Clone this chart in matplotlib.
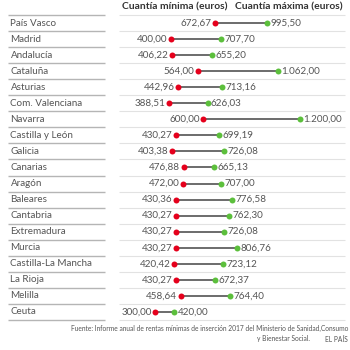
import matplotlib

matplotlib.use("Agg")
import matplotlib.pyplot as plt

regions = ["País Vasco", "Madrid", "Andalucía", "Cataluña", "Asturias",
           "Com. Valenciana", "Navarra", "Castilla y León", "Galicia",
           "Canarias", "Aragón", "Baleares", "Cantabria", "Extremadura",
           "Murcia", "Castilla-La Mancha", "La Rioja", "Melilla", "Ceuta"]
minimo = [672.67, 400.00, 406.22, 564.00, 442.96, 388.51, 600.00, 430.27,
          403.38, 476.88, 472.00, 430.36, 430.27, 430.27, 430.27, 420.42,
          430.27, 458.64, 300.00]
maximo = [995.50, 707.70, 655.20, 1062.00, 713.16, 626.03, 1200.00, 699.19,
          726.08, 665.13, 707.00, 776.58, 762.30, 726.08, 806.76, 723.12,
          672.37, 764.40, 420.00]

RED = "#e5001c"
GREEN = "#5cbf3c"
TEXT = "#555555"

plt.rcParams["font.family"] = ["Lato", "DejaVu Sans"]


def fmt(v):
    s = f"{v:,.2f}"
    return s.replace(",", "X").replace(".", ",").replace("X", ".")


fig = plt.figure(figsize=(3.5, 3.5), dpi=100)
ax = fig.add_axes([0, 0, 1, 1])
ax.set_xlim(-663, 1511)
ax.set_ylim(20.375, -1.4375)
ax.axis("off")

n = len(regions)
# row separators: darker under the labels, lighter across the values
for i in range(n + 1):
    y = i - 0.5
    ax.plot([0.023, 0.30], [y, y], transform=ax.get_yaxis_transform(),
            color="#b5b5b5", lw=1.0, solid_capstyle="butt")
    ax.plot([0.34, 0.985], [y, y], transform=ax.get_yaxis_transform(),
            color="#e2e2e2", lw=0.8, solid_capstyle="butt")

for i, (name, lo, hi) in enumerate(zip(regions, minimo, maximo)):
    ax.text(0.03, i, name, transform=ax.get_yaxis_transform(),
            ha="left", va="center", fontsize=7.1, color=TEXT)
    ax.plot([lo, hi], [i, i], color="#444444", lw=1.1, zorder=2)
    ax.plot(lo, i, "o", color=RED, ms=4.3, mec="none", zorder=3)
    ax.plot(hi, i, "o", color=GREEN, ms=4.3, mec="none", zorder=3)
    ax.annotate(fmt(lo), (lo, i), xytext=(-2.5, 0), textcoords="offset points",
                ha="right", va="center", fontsize=7.1, color=TEXT)
    ax.annotate(fmt(hi), (hi, i), xytext=(2.5, 0), textcoords="offset points",
                ha="left", va="center", fontsize=7.1, color=TEXT)

fig.text(175 / 350, 1 - 7 / 350, "Cuantía mínima (euros)", ha="center",
         va="center", fontsize=7.4, fontweight="bold", color="#333333")
fig.text(289 / 350, 1 - 7 / 350, "Cuantía máxima (euros)", ha="center",
         va="center", fontsize=7.4, fontweight="bold", color="#333333")

fig.text(348 / 350, 1 - 328 / 350,
         "Fuente: Informe anual de rentas mínimas de inserción 2017 del Ministerio de Sanidad,Consumo",
         ha="right", va="center", fontsize=4.8, color=TEXT)
fig.text(310 / 350, 1 - 339 / 350, "y Bienestar Social.", ha="right",
         va="center", fontsize=4.8, color=TEXT)
fig.text(348 / 350, 1 - 339 / 350, "EL PAÍS", ha="right",
         va="center", fontsize=4.8, color=TEXT)

fig.savefig("out.png", dpi=100)
